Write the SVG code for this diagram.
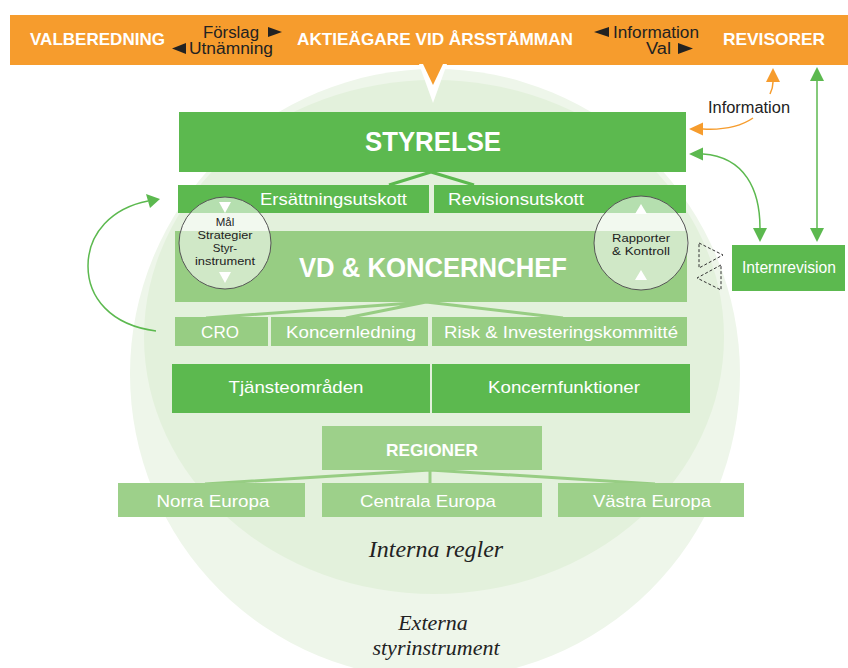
<svg xmlns="http://www.w3.org/2000/svg" width="848" height="668" viewBox="0 0 848 668">
<style>
.bar{fill:#f69c2d}
.dg{fill:#5cb94f}
.lg{fill:#97cd83}
.wb{font-family:"Liberation Sans Narrow","Liberation Sans",Arial,sans-serif;font-weight:bold;fill:#fff}
.wt{font-family:"Liberation Sans",Arial,sans-serif;fill:#fff;font-size:17px}
.dk{font-family:"Liberation Sans Narrow","Liberation Sans",Arial,sans-serif;fill:#222}
.sm{font-family:"Liberation Sans",Arial,sans-serif;fill:#222;font-size:11.5px;text-anchor:middle}
.it{font-family:"Liberation Serif","Times New Roman",serif;font-style:italic;fill:#222;text-anchor:middle}
.c{text-anchor:middle}
.tri{fill:#222}
.wtri{fill:#fff}
.gl{stroke:#5cb94f;stroke-width:3;fill:none}
.ll{stroke:#97cd83;stroke-width:3;fill:none}
.ga{stroke:#5cb94f;stroke-width:1.5;fill:none}
.oa{stroke:#f69c2d;stroke-width:1.5;fill:none}
.circ{fill:#fff;fill-opacity:0.55;stroke:#555;stroke-width:1}
.dash{fill:none;stroke:#333;stroke-width:1;stroke-dasharray:3 2}
</style>
<g id="background">
<circle cx="435" cy="374" r="305" fill="#eef6ea"/>
<ellipse cx="434" cy="337" rx="290" ry="257" fill="#e3f1dc"/>
<text class="it" x="436" y="557" font-size="24">Interna regler</text>
<text class="it" x="433" y="630" font-size="22">Externa</text>
<text class="it" x="436" y="655" font-size="22">styrinstrument</text>
</g>
<g id="topbar">
<rect class="bar" x="10" y="15" width="838" height="50"/>
<polygon points="419,64 447,64 433,103" fill="#fff"/>
<polygon points="423,64 443,64 433,85" class="bar"/>
<text class="wb" x="30" y="45" font-size="17" textLength="135" lengthAdjust="spacingAndGlyphs">VALBEREDNING</text>
<text class="dk" x="203" y="38" font-size="16" textLength="56" lengthAdjust="spacingAndGlyphs">Förslag</text>
<polygon class="tri" points="268,27 282,32 268,37"/>
<polygon class="tri" points="186,43 172,48.5 186,54"/>
<text class="dk" x="189" y="54" font-size="16" textLength="84" lengthAdjust="spacingAndGlyphs">Utnämning</text>
<text class="wb" x="297" y="45" font-size="17" textLength="276" lengthAdjust="spacingAndGlyphs">AKTIEÄGARE VID ÅRSSTÄMMAN</text>
<polygon class="tri" points="609,27 594,32 609,37"/>
<text class="dk" x="613" y="38" font-size="16" textLength="86" lengthAdjust="spacingAndGlyphs">Information</text>
<text class="dk" x="646" y="54" font-size="16" textLength="25" lengthAdjust="spacingAndGlyphs">Val</text>
<polygon class="tri" points="678,43 693,48.5 678,54"/>
<text class="wb" x="723" y="45" font-size="17" textLength="102" lengthAdjust="spacingAndGlyphs">REVISORER</text>
</g>
<g id="connectors">
<path class="gl" d="M431,172 L389,185 M431,172 L474,185"/>
<path class="ll" d="M426,302 L206,318 M426,302 L346,318 M426,302 L563,318"/>
<path class="ll" d="M430,470 L205,484 M430,470 L430,484 M430,470 L655,484" stroke="#9dd08a"/>
<path class="ga" d="M156,331 C110,325 88,297 88,266 C88,233 112,208 148,201"/>
<polygon fill="#5cb94f" points="160,199 146,194 150,208"/>
<path class="oa" d="M770,94 C772,90 773,86 773,82"/>
<polygon fill="#f69c2d" points="773,68 766,82 780,82"/>
<path class="oa" d="M753,118 C740,127 722,130 703,129"/>
<polygon fill="#f69c2d" points="689,129 703,122.5 703,135.5"/>
<path class="ga" d="M703,154 C745,157 760,190 760,228"/>
<polygon fill="#5cb94f" points="689,154 703,147.5 703,160.5"/>
<polygon fill="#5cb94f" points="760,242 753,228 767,228"/>
<line class="ga" x1="817" y1="81" x2="817" y2="228"/>
<polygon fill="#5cb94f" points="817,67 810,81 824,81"/>
<polygon fill="#5cb94f" points="817,242 810,228 824,228"/>
<polygon class="dash" points="699,243 723,255 699,268"/>
<polygon class="dash" points="721,265 697,278 721,290"/>
</g>
<g id="styrelse">
<rect class="dg" x="179" y="112" width="507" height="60"/>
<text class="wb c" x="433" y="151" font-size="27" textLength="136" lengthAdjust="spacingAndGlyphs">STYRELSE</text>
</g>
<g id="ersattningsutskott">
<rect class="dg" x="178" y="185" width="251" height="28"/>
<text class="wt" x="260" y="205" textLength="147" lengthAdjust="spacingAndGlyphs">Ersättningsutskott</text>
</g>
<g id="revisionsutskott">
<rect class="dg" x="434" y="185" width="252" height="28"/>
<text class="wt" x="448" y="205" textLength="136" lengthAdjust="spacingAndGlyphs">Revisionsutskott</text>
</g>
<g id="vd">
<rect class="lg" x="175" y="231" width="512" height="71"/>
<text class="wb c" x="433" y="277" font-size="27" textLength="268" lengthAdjust="spacingAndGlyphs">VD &amp; KONCERNCHEF</text>
</g>
<g id="cro">
<rect class="lg" x="175" y="317" width="93" height="29"/>
<text class="wt c" x="220" y="338">CRO</text>
</g>
<g id="koncernledning">
<rect class="lg" x="271" y="317" width="157" height="29"/>
<text class="wt c" x="351" y="338" textLength="130" lengthAdjust="spacingAndGlyphs">Koncernledning</text>
</g>
<g id="risk">
<rect class="lg" x="432" y="317" width="255" height="29"/>
<text class="wt c" x="561" y="338" textLength="234" lengthAdjust="spacingAndGlyphs">Risk &amp; Investeringskommitté</text>
</g>
<g id="mal-circle">
<circle class="circ" cx="225" cy="243" r="46"/>
<polygon class="wtri" points="219,202 231,202 225,213"/>
<polygon class="wtri" points="219,272 231,272 225,283"/>
<text class="sm" x="225" y="226">Mål</text>
<text class="sm" x="225" y="239" textLength="55" lengthAdjust="spacingAndGlyphs">Strategier</text>
<text class="sm" x="225" y="252">Styr-</text>
<text class="sm" x="225" y="265" textLength="60" lengthAdjust="spacingAndGlyphs">instrument</text>
</g>
<g id="rapporter-circle">
<circle class="circ" cx="641" cy="243" r="47"/>
<polygon class="wtri" points="635,214 647,214 641,204"/>
<polygon class="wtri" points="635,280 647,280 641,270"/>
<text class="sm" x="641" y="242" textLength="58" lengthAdjust="spacingAndGlyphs">Rapporter</text>
<text class="sm" x="641" y="255" textLength="58" lengthAdjust="spacingAndGlyphs">&amp; Kontroll</text>
</g>
<g id="tjansteomraden">
<rect class="dg" x="172" y="364" width="258" height="49"/>
<text class="wt c" x="296" y="393" textLength="135" lengthAdjust="spacingAndGlyphs">Tjänsteområden</text>
</g>
<g id="koncernfunktioner">
<rect class="dg" x="432" y="364" width="258" height="49"/>
<text class="wt c" x="564" y="393" textLength="152" lengthAdjust="spacingAndGlyphs">Koncernfunktioner</text>
</g>
<g id="regioner">
<rect x="322" y="426" width="220" height="44" fill="#9dd08a"/>
<text class="wb c" x="432" y="456" font-size="17" textLength="92" lengthAdjust="spacingAndGlyphs">REGIONER</text>
</g>
<g id="norra">
<rect x="118" y="483" width="187" height="34" fill="#9dd08a"/>
<text class="wt c" x="213" y="507" textLength="113" lengthAdjust="spacingAndGlyphs">Norra Europa</text>
</g>
<g id="centrala">
<rect x="322" y="483" width="220" height="34" fill="#9dd08a"/>
<text class="wt c" x="428" y="507" textLength="136" lengthAdjust="spacingAndGlyphs">Centrala Europa</text>
</g>
<g id="vastra">
<rect x="558" y="483" width="186" height="34" fill="#9dd08a"/>
<text class="wt c" x="652" y="507" textLength="118" lengthAdjust="spacingAndGlyphs">Västra Europa</text>
</g>
<g id="internrevision">
<rect class="dg" x="732" y="245" width="113" height="46"/>
<text class="wt c" x="789" y="273" font-size="15.5" textLength="94" lengthAdjust="spacingAndGlyphs">Internrevision</text>
</g>
<g id="information-label">
<text class="dk" x="708" y="113" font-size="16" textLength="82" lengthAdjust="spacingAndGlyphs">Information</text>
</g>
</svg>
